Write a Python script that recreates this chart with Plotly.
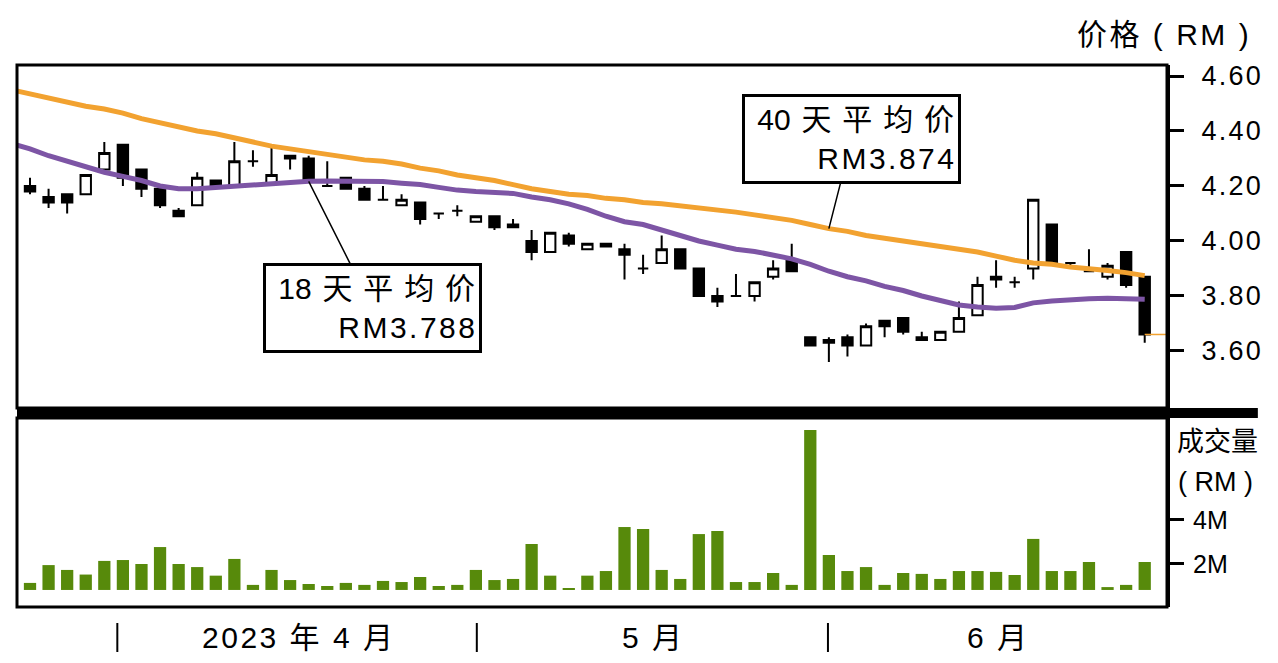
"""
Daily candlestick chart with 18/40 day moving averages and traded value panel
"""

import plotly.graph_objects as go

FONT = "Liberation Sans, Noto Sans CJK SC, sans-serif"

# trading day index (0 = first session shown)
day = list(range(61))

open_ = [4.20, 4.16, 4.17, 4.17, 4.26, 4.35, 4.26, 4.19, 4.11, 4.13,
         4.22, 4.20, 4.29, 4.21, 4.31, 4.30, 4.20, 4.23, 4.19, 4.15,
         4.13, 4.14, 4.10, 4.11, 4.07, 4.09, 4.06, 4.00, 3.96, 4.02,
         3.97, 3.99, 3.97, 3.90, 3.92, 3.97, 3.90, 3.80, 3.80, 3.80,
         3.87, 3.93, 3.65, 3.63, 3.65, 3.62, 3.71, 3.72, 3.65, 3.64,
         3.67, 3.73, 3.87, 3.85, 3.90, 4.06, 3.92, 3.89, 3.87, 3.96,
         3.87]
high = [4.23, 4.19, 4.17, 4.24, 4.36, 4.35, 4.26, 4.19, 4.12, 4.25,
        4.22, 4.36, 4.33, 4.34, 4.31, 4.31, 4.29, 4.23, 4.20, 4.20,
        4.17, 4.14, 4.10, 4.13, 4.09, 4.09, 4.08, 4.04, 4.03, 4.03,
        3.99, 3.99, 3.99, 3.95, 4.02, 3.97, 3.90, 3.83, 3.88, 3.85,
        3.93, 3.99, 3.65, 3.65, 3.66, 3.70, 3.71, 3.72, 3.67, 3.67,
        3.78, 3.87, 3.93, 3.87, 4.15, 4.06, 3.92, 3.97, 3.92, 3.96,
        3.87]
low = [4.17, 4.12, 4.10, 4.17, 4.26, 4.20, 4.16, 4.12, 4.09, 4.13,
       4.20, 4.20, 4.27, 4.21, 4.26, 4.22, 4.20, 4.19, 4.15, 4.15,
       4.13, 4.06, 4.08, 4.09, 4.07, 4.04, 4.05, 3.93, 3.96, 3.98,
       3.97, 3.98, 3.86, 3.88, 3.92, 3.90, 3.80, 3.76, 3.80, 3.78,
       3.86, 3.89, 3.62, 3.56, 3.58, 3.62, 3.65, 3.66, 3.64, 3.64,
       3.67, 3.73, 3.83, 3.83, 3.86, 3.92, 3.91, 3.89, 3.86, 3.83,
       3.63]
close = [4.18, 4.14, 4.14, 4.24, 4.32, 4.23, 4.19, 4.13, 4.09, 4.23,
         4.20, 4.29, 4.29, 4.24, 4.30, 4.22, 4.20, 4.19, 4.15, 4.15,
         4.15, 4.08, 4.10, 4.11, 4.09, 4.05, 4.05, 3.96, 4.03, 3.99,
         3.99, 3.98, 3.95, 3.90, 3.97, 3.90, 3.80, 3.78, 3.80, 3.85,
         3.90, 3.89, 3.62, 3.64, 3.62, 3.69, 3.69, 3.67, 3.64, 3.67,
         3.72, 3.84, 3.86, 3.85, 4.15, 3.92, 3.92, 3.89, 3.91, 3.84,
         3.66]

# moving averages start one session before the first candle
ma_day = list(range(-1, 61))
ma18 = [4.355, 4.335, 4.31, 4.29, 4.27, 4.25, 4.235, 4.22, 4.20, 4.19,
        4.19, 4.195, 4.20, 4.205, 4.21, 4.215, 4.217, 4.218, 4.218, 4.217,
        4.216, 4.21, 4.205, 4.195, 4.185, 4.18, 4.177, 4.173, 4.16, 4.15,
        4.135, 4.115, 4.09, 4.07, 4.06, 4.04, 4.02, 4.00, 3.985, 3.97,
        3.962, 3.95, 3.935, 3.915, 3.89, 3.87, 3.855, 3.835, 3.82, 3.80,
        3.785, 3.767, 3.76, 3.755, 3.758, 3.775, 3.782, 3.787, 3.79, 3.792,
        3.792, 3.788]
ma40 = [4.55, 4.535, 4.52, 4.505, 4.49, 4.48, 4.465, 4.445, 4.43, 4.415,
        4.40, 4.39, 4.375, 4.36, 4.345, 4.335, 4.325, 4.315, 4.305, 4.295,
        4.29, 4.28, 4.265, 4.255, 4.24, 4.23, 4.22, 4.205, 4.19, 4.18,
        4.17, 4.165, 4.155, 4.15, 4.14, 4.135, 4.128, 4.122, 4.115, 4.105,
        4.095, 4.085, 4.075, 4.06, 4.045, 4.035, 4.02, 4.01, 4.00, 3.99,
        3.98, 3.97, 3.96, 3.945, 3.93, 3.92, 3.915, 3.905, 3.90, 3.893,
        3.885, 3.874]

# traded value, RM million
volume = [1.14, 1.95, 1.73, 1.52, 2.14, 2.18, 2.00, 2.77, 2.00, 1.86,
          1.47, 2.23, 1.05, 1.73, 1.27, 1.09, 1.00, 1.14, 1.05, 1.23,
          1.18, 1.41, 1.00, 1.05, 1.73, 1.27, 1.32, 2.91, 1.47, 0.91,
          1.47, 1.68, 3.68, 3.59, 1.73, 1.32, 3.36, 3.50, 1.18, 1.18,
          1.59, 1.05, 8.09, 2.41, 1.68, 1.86, 1.05, 1.59, 1.55, 1.32,
          1.68, 1.68, 1.64, 1.50, 3.14, 1.68, 1.68, 2.09, 0.95, 1.05,
          2.09]
vol_base = 0.82  # bars are drawn up from this level

price_ticks = [3.60, 3.80, 4.00, 4.20, 4.40, 4.60]
vol_ticks = [2, 4]
vol_tick_text = ["2M", "4M"]

# month boundaries (in trading-day units) and labels
month_bounds = [4.7, 24.05, 42.95]
month_labels = ["2023 年 4 月", "5 月", "6 月"]

ma18_label = "18 天 平 均 价"
ma40_label = "40 天 平 均 价"

X_RANGE = [-0.7, 61.2]
ORANGE = "#F2A230"
PURPLE = "#7D55A5"
GREEN = "#578A0B"
HAIR = "\u200a"


def spaced(text, sep=HAIR):
    """Put a small space between every character (the chart uses wide tracking)"""
    return sep.join(text)


def wide_words(text):
    """Widen the word gaps a little"""
    return text.replace(" ", " " + HAIR)


fig = go.Figure()

# short orange marker from the last close to the axis
fig.add_trace(go.Scatter(
    x=[day[-1], X_RANGE[1]], y=[close[-1], close[-1]],
    mode='lines', line=dict(color=ORANGE, width=1.5),
    hoverinfo='skip'
))

fig.add_trace(go.Candlestick(
    x=day, open=open_, high=high, low=low, close=close,
    increasing=dict(line=dict(color='black', width=2), fillcolor='white'),
    decreasing=dict(line=dict(color='black', width=2), fillcolor='black'),
    whiskerwidth=0,
    name='price'
))

fig.add_trace(go.Scatter(
    x=ma_day, y=ma40, mode='lines',
    line=dict(color=ORANGE, width=5), name='MA40'
))
fig.add_trace(go.Scatter(
    x=ma_day, y=ma18, mode='lines',
    line=dict(color=PURPLE, width=5), name='MA18'
))

fig.add_trace(go.Bar(
    x=day, y=[v - vol_base for v in volume], base=vol_base,
    marker=dict(color=GREEN, line=dict(width=0)),
    width=0.66, yaxis='y2', name='volume'
))

# page body has an 8px margin, so the figure is 16px smaller than the window
fig.update_layout(
    width=1262, height=647,
    margin=dict(l=9, r=103, t=57, b=48),
    paper_bgcolor='white', plot_bgcolor='white',
    showlegend=False,
    boxgap=0.2,
    font=dict(family=FONT, color='black', size=27),
    xaxis=dict(
        range=X_RANGE, domain=[0, 1], anchor='y2',
        showticklabels=False, showgrid=False, zeroline=False, ticks='',
        rangeslider=dict(visible=False)
    ),
    yaxis=dict(
        domain=[0.3672, 1], range=[3.3927, 4.64], side='right', anchor='x',
        tickvals=price_ticks,
        ticktext=[spaced(f"{t:.2f}") for t in price_ticks],
        ticks='outside', ticklen=14, tickwidth=3, tickcolor='black',
        ticklabelstandoff=12,
        showline=True, linewidth=3, linecolor='black',
        showgrid=False, zeroline=False,
        tickfont=dict(size=27)
    ),
    yaxis2=dict(
        domain=[0, 0.3487], range=[0.045, 8.636], side='right', anchor='x',
        tickvals=vol_ticks, ticktext=vol_tick_text,
        ticks='outside', ticklen=14, tickwidth=3, tickcolor='black',
        ticklabelstandoff=4,
        showline=True, linewidth=3, linecolor='black',
        showgrid=False, zeroline=False,
        tickfont=dict(size=25)
    )
)

# panel frames
fig.add_shape(type='rect', xref='x domain', yref='y domain', x0=0, x1=1, y0=0, y1=1,
              line=dict(color='black', width=3))
fig.add_shape(type='rect', xref='x domain', yref='y2 domain', x0=0, x1=1, y0=0, y1=1,
              line=dict(color='black', width=3))
# thick separator between price and volume panels
fig.add_shape(type='rect', xref='paper', yref='paper', x0=0, x1=1.079, y0=0.3487, y1=0.367,
              fillcolor='black', line=dict(width=0))

# month ticks and labels under the chart
edges = month_bounds + [X_RANGE[1]]
for i, b in enumerate(month_bounds):
    fig.add_shape(type='line', xref='x', yref='paper', x0=b, x1=b, y0=-0.0295, y1=-0.083,
                  line=dict(color='black', width=2))
    fig.add_annotation(x=(edges[i] + edges[i + 1]) / 2, y=-0.0554, xref='x', yref='paper',
                       text=spaced(month_labels[i]), showarrow=False,
                       xanchor='center', yanchor='middle', font=dict(size=30))

# axis captions
caption = dict(xref='paper', yref='paper', showarrow=False, xanchor='center', yanchor='middle')
fig.add_annotation(x=0.9965, y=1.057, text=spaced("价格 ( RM )"), font=dict(size=30), **caption)
fig.add_annotation(x=1.0443, y=0.3044, text="成交量", font=dict(size=27), **caption)
fig.add_annotation(x=1.0426, y=0.2306, text="( RM )", font=dict(size=27), **caption)

# moving average call-outs
box_style = dict(
    showarrow=True, arrowhead=0, arrowwidth=1.5, arrowcolor='black', standoff=0,
    bordercolor='black', borderwidth=3, borderpad=4, bgcolor='white',
    width=205, height=76, align='right', font=dict(size=30)
)
fig.add_annotation(
    x=43, y=ma40[ma_day.index(43)], xref='x', yref='y', ax=23, ay=-90,
    text=wide_words(ma40_label) + "<br>" + spaced(f"RM{ma40[-1]:.3f}"),
    **box_style
)
fig.add_annotation(
    x=15, y=ma18[ma_day.index(15)], xref='x', yref='y', ax=64, ay=127,
    text=wide_words(ma18_label) + "<br>" + spaced(f"RM{ma18[-1]:.3f}"),
    **box_style
)

fig.write_html("out.html")
